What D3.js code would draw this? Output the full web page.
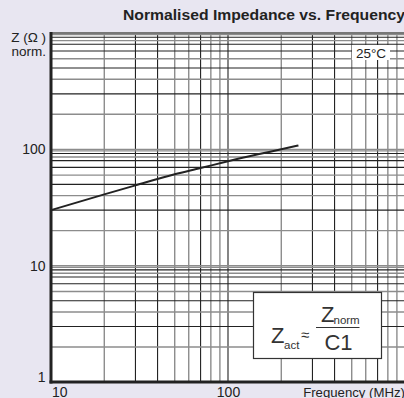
<!DOCTYPE html>
<html><head><meta charset="utf-8">
<script src="https://cdn.jsdelivr.net/npm/d3@7"></script>
<style>
html,body{margin:0;padding:0;background:#e8e6f1;overflow:hidden}
svg{display:block;font-family:"Liberation Sans",Arial,Helvetica,sans-serif}
</style></head><body>
<svg id="c" width="404" height="398"></svg>
<script>
// ---- data ----
const freqMHz = [10, 20, 30, 50, 70, 100, 150, 200, 250];
const zNorm   = [30, 41, 49, 61, 69, 79, 91, 100, 108];
const xTickLabels = [10, 100];
const yTickLabels = [1, 10, 100];
const xMinorMult = [2, 3, 4, 5, 6, 7, 8, 9];
const xMinorDark = [3, 4, 7];
const yMinorMult = [2, 3, 4, 5, 6, 7, 8, 8.6, 9.2, 9.7];
const yMinorDark = [3, 5, 7, 8, 9.2];
const titleText = "Normalised Impedance vs. Frequency";
const tempLabel = "25°C";

const svg = d3.select("#c");
const L = 51, R = 405, T = 33, B = 382;
const x = d3.scaleLog().domain([10, 1000]).range([L, R]);
const y = d3.scaleLog().domain([1, 1000]).range([B, T]);

svg.append("rect").attr("x", L).attr("y", T).attr("width", R - L).attr("height", B - T).attr("fill", "#fff");

const dark = "#222", gray = "#8c8c8c";
// vertical grid
const vLines = [];
[10, 100].forEach(d => xMinorMult.forEach(m => vLines.push({v: d * m, dark: xMinorDark.includes(m)})));
vLines.push({v: 100, dark: true});
svg.append("g").selectAll("line").data(vLines).join("line")
  .attr("x1", d => x(d.v)).attr("x2", d => x(d.v)).attr("y1", T).attr("y2", B)
  .attr("stroke", d => d.dark ? dark : gray).attr("stroke-width", d => d.dark ? 1.1 : 1.4);
// horizontal grid
const hLines = [];
[1, 10, 100].forEach(d => yMinorMult.forEach(m => hLines.push({v: d * m, dark: yMinorDark.includes(m)})));
hLines.push({v: 10, dark: false}, {v: 100, dark: false});
svg.append("g").selectAll("line").data(hLines).join("line")
  .attr("x1", L).attr("x2", R).attr("y1", d => y(d.v)).attr("y2", d => y(d.v))
  .attr("stroke", d => d.dark ? dark : gray).attr("stroke-width", d => d.dark ? 1.1 : 1.4);

// frame
svg.append("line").attr("x1", L).attr("x2", R).attr("y1", T).attr("y2", T).attr("stroke", "#777").attr("stroke-width", 2);
svg.append("line").attr("x1", L).attr("x2", L).attr("y1", T - 1).attr("y2", B + 1.5).attr("stroke", dark).attr("stroke-width", 3);
svg.append("line").attr("x1", L - 1.5).attr("x2", R).attr("y1", B).attr("y2", B).attr("stroke", dark).attr("stroke-width", 3);

// curve
const line = d3.line().x(d => x(d[0])).y(d => y(d[1])).curve(d3.curveMonotoneX);
svg.append("path").datum(freqMHz.map((f, i) => [f, zNorm[i]]))
  .attr("d", line).attr("fill", "none").attr("stroke", dark).attr("stroke-width", 2);

// y tick labels
svg.append("g").selectAll("text").data(yTickLabels).join("text")
  .attr("x", 45.5).attr("y", d => d === 1 ? y(d) - 0.5 : y(d) + 5)
  .attr("text-anchor", "end").attr("font-size", 14).attr("fill", dark).text(d => d);
// x tick labels
svg.append("g").selectAll("text").data(xTickLabels).join("text")
  .attr("x", d => d === 10 ? x(d) + 1 : x(d) + 0.5)
  .attr("text-anchor", d => d === 10 ? "start" : "middle")
  .attr("y", 396.5).attr("font-size", 14).attr("fill", dark).text(d => d);

svg.append("text").attr("x", 405).attr("y", 396.5).attr("text-anchor", "end")
  .attr("font-size", 13.2).attr("fill", dark).text("Frequency (MHz)");
svg.append("text").attr("x", 46).attr("y", 42).attr("text-anchor", "end")
  .attr("font-size", 13.5).attr("fill", dark).text("Z (Ω )");
svg.append("text").attr("x", 46).attr("y", 56).attr("text-anchor", "end")
  .attr("font-size", 13.5).attr("fill", dark).text("norm.");

svg.append("text").attr("x", 123).attr("y", 19.5)
  .attr("font-size", 14.5).attr("font-weight", "bold").attr("fill", dark)
  .attr("textLength", 282).attr("lengthAdjust", "spacingAndGlyphs").text(titleText);

// 25°C label
svg.append("rect").attr("x", 352).attr("y", 45).attr("width", 38).attr("height", 15).attr("fill", "#fff");
svg.append("text").attr("x", 371).attr("y", 57.5).attr("text-anchor", "middle")
  .attr("font-size", 13.5).attr("fill", dark).text(tempLabel);

// formula box
const fb = svg.append("g");
fb.append("rect").attr("x", 253.5).attr("y", 292.5).attr("width", 128).attr("height", 66)
  .attr("fill", "#fff").attr("stroke", "#333").attr("stroke-width", 1.2);
fb.append("text").attr("x", 271).attr("y", 343).attr("font-size", 22).attr("fill", "#333").text("Z");
fb.append("text").attr("x", 284).attr("y", 349).attr("font-size", 11.5).attr("fill", "#333").text("act");
fb.append("text").attr("x", 301).attr("y", 340).attr("font-size", 15).attr("fill", "#333").text("≈");
fb.append("line").attr("x1", 316).attr("x2", 359.5).attr("y1", 327.5).attr("y2", 327.5).attr("stroke", "#333").attr("stroke-width", 1.2);
fb.append("text").attr("x", 321).attr("y", 322).attr("font-size", 22).attr("fill", "#333").text("Z");
fb.append("text").attr("x", 333.5).attr("y", 324).attr("font-size", 11.5).attr("fill", "#333").text("norm");
fb.append("text").attr("x", 338.5).attr("y", 350).attr("text-anchor", "middle").attr("font-size", 22).attr("fill", "#333").text("C1");
</script>
</body></html>
